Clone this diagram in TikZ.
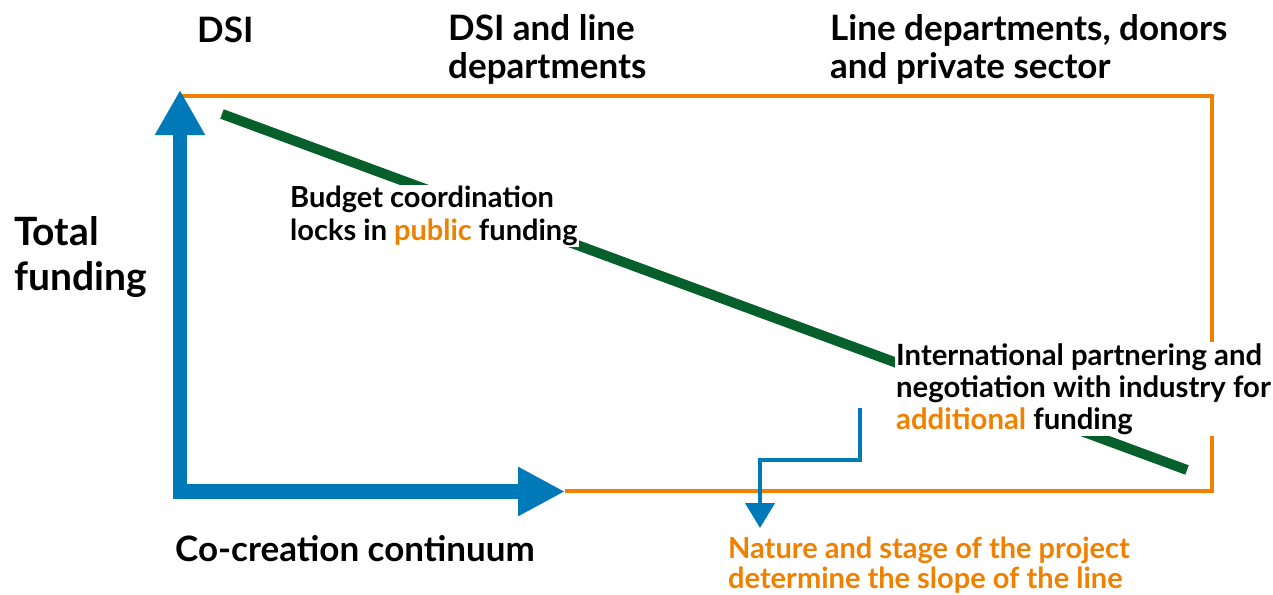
\documentclass[tikz,border=0pt]{standalone}
\usepackage{fontspec}
\setmainfont{Lato}
\usetikzlibrary{arrows.meta}
\definecolor{cblue}{HTML}{0079B9}
\definecolor{corange}{HTML}{F08100}
\definecolor{cgreen}{HTML}{075F2B}
\begin{document}
\begin{tikzpicture}[x=1pt,y=-1pt,
  lbl/.style={inner sep=0pt, align=left, anchor=west, text=black},
  hdr/.style={lbl, font=\fontsize{35}{38}\selectfont\bfseries},
  frame/.style={draw=corange, line width=4pt},
  axis/.style={draw=cblue, line width=14.5pt, line join=miter},
  trend/.style={draw=cgreen, line width=10pt},
  hint/.style={draw=cblue, line width=4.5pt}]
\useasboundingbox (0,0) rectangle (1273,594);
% frame
\coordinate (tl) at (180,96);
\coordinate (tr) at (1212,96);
\coordinate (br) at (1212,491);
\coordinate (bm) at (565,491);
\draw[frame] (tl) -- (tr) -- (br) -- (bm);
% axes
\coordinate (ytip) at (180,90);
\coordinate (orig) at (180,491.5);
\coordinate (xtip) at (565,491.5);
\draw[axis, {Triangle[length=45pt,width=47pt]}-{Triangle[length=47pt,width=46pt]}] (ytip) -- (orig) -- (xtip);
% trend line
\coordinate (g1) at (222,114);
\coordinate (g2) at (1187,470);
\draw[trend] (g1) -- (g2);
% headers
\node[hdr] (dsi) at (197,30) {DSI};
\node[hdr] (mid) at (448,49) {DSI and line\\departments};
\node[hdr] (right) at (830,49) {Line departments, donors\\and private sector};
\node[lbl, font=\fontsize{39}{45}\selectfont\bfseries] (total) at (14,257) {Total\\funding};
\node[lbl, fill=white, inner sep=1pt, font=\fontsize{29}{33}\selectfont\bfseries] (budget) at (289,216) {Budget coordination\\locks in \textcolor{corange}{public} funding};
\node[lbl, fill=white, inner sep=1pt, font=\fontsize{29.3}{32}\selectfont\bfseries] (intl) at (895,389) {International partnering and\\negotiation with industry for\\\textcolor{corange}{additional} funding};
\node[lbl, font=\fontsize{35}{36}\selectfont\bfseries] (cc) at (175,549) {Co-creation continuum};
\node[lbl, text=corange, font=\fontsize{29}{30}\selectfont\bfseries] (nat) at (728,565) {Nature and stage of the project\\determine the slope of the line};
% hint arrow
\coordinate (e1) at (860,408);
\coordinate (e2) at (760,460);
\coordinate (etip) at (760,528);
\draw[hint, -{Triangle[length=25pt,width=29pt]}] (e1) |- (e2) -- (etip);
\end{tikzpicture}
\end{document}
